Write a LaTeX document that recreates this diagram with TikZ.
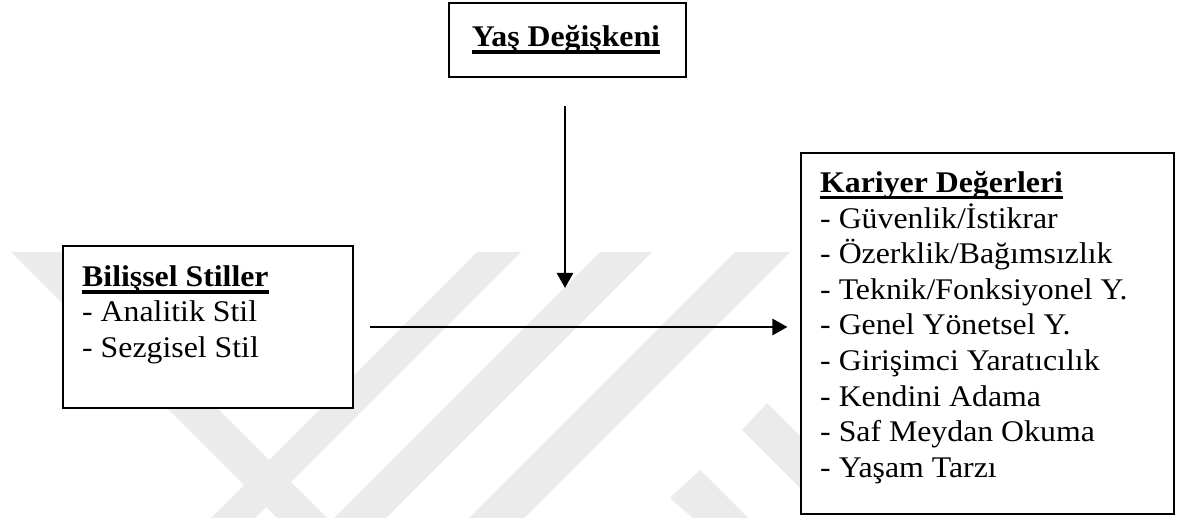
\documentclass[tikz,border=0pt]{standalone}
\usepackage{fontspec}
\usepackage{graphicx}
\setmainfont{Liberation Serif}
\usetikzlibrary{arrows.meta}
\newcommand\wideText[1]{\scalebox{1.06}[1]{#1}}
\begin{document}
\begin{tikzpicture}[x=1pt,y=-1pt,
  box/.style={draw=black, line width=1.1pt, fill=white, inner sep=0pt},
  txt/.style={anchor=base west, inner sep=0pt, font=\fontsize{30pt}{35.5pt}\selectfont},
  head/.style={txt, font=\fontsize{30pt}{35.5pt}\selectfont\bfseries},
  arr/.style={line width=2.6pt, -{Triangle[length=15pt,width=16pt]}},
  wm/.style={fill=black!8, draw=none},
  ul/.style={line width=3.4pt}
]
\useasboundingbox[fill=white] (0,0) rectangle (1185,518);
% faint watermark
\fill[wm] (11,252) -- (61,252) -- (327,518) -- (277,518) -- cycle;
\fill[wm] (477,252) -- (521,252) -- (255,518) -- (211,518) -- cycle;
\fill[wm] (600,252) -- (652,252) -- (386,518) -- (334,518) -- cycle;
\fill[wm] (735,252) -- (790,252) -- (524,518) -- (469,518) -- cycle;
\fill[wm] (767,403) -- (801,437) -- (801,489) -- (742,430) -- cycle;
\fill[wm] (700,470) -- (748,518) -- (693,518) -- (670,498) -- cycle;

% boxes
\node[box, minimum width=237pt, minimum height=74pt] (yas) at (567.5,40) {};
\node[head, anchor=base] (yast) at (566,47) {\wideText{Yaş Değişkeni}};
\draw[ul] ([yshift=-5pt]yast.base west) -- ([yshift=-5pt]yast.base east);

\node[box, minimum width=290pt, minimum height=162pt] (bil) at (208,327) {};
\node[head] (bilh) at (82,287) {\wideText{Bilişsel Stiller}};
\draw[ul] ([yshift=-5pt]bilh.base west) -- ([yshift=-5pt]bilh.base east);
\node[txt] (bil1) at (82,322) {\wideText{- Analitik Stil}};
\node[txt] (bil2) at (82,357.5) {\wideText{- Sezgisel Stil}};

\node[box, minimum width=373pt, minimum height=361pt] (kar) at (987.5,333.5) {};
\node[head] (karh) at (820,192.5) {\wideText{Kariyer Değerleri}};
\draw[ul] ([yshift=-5pt]karh.base west) -- ([yshift=-5pt]karh.base east);
\foreach \t [count=\i] in {Güvenlik/İstikrar, Özerklik/Bağımsızlık, Teknik/Fonksiyonel Y., Genel Yönetsel Y., Girişimci Yaratıcılık, Kendini Adama, Saf Meydan Okuma, Yaşam Tarzı}
  \node[txt] (kar\i) at (820,192.5+35.6*\i) {\wideText{- \t}};

% connectors
\coordinate (vt) at (565,288);
\draw[arr, shorten <=28pt] (yas.south -| vt) -- (vt);
\draw[arr, shorten <=16pt, shorten >=13pt] (bil.east) -- (bil.east -| kar.west);
\end{tikzpicture}
\end{document}
